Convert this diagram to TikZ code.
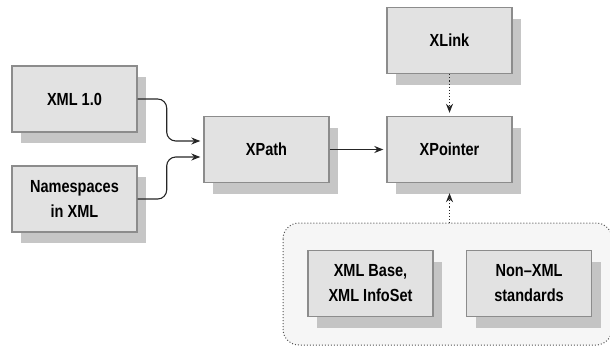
\documentclass[tikz,border=0pt]{standalone}
\usepackage{fontspec}
\setmainfont{Liberation Sans}[FakeStretch=0.83]
\usetikzlibrary{arrows.meta,shadows}

\definecolor{boxfill}{HTML}{E2E2E2}
\definecolor{boxline}{HTML}{8C8C8C}
\definecolor{shadowgray}{HTML}{B8B8B8}
\definecolor{groupfill}{HTML}{F6F6F6}

\tikzset{
  specbox/.style={draw=boxline, line width=1.4pt, fill=boxfill,
    minimum width=125pt, minimum height=66pt, inner sep=0pt,
    align=center, font=\fontsize{17.5}{25}\selectfont\bfseries,
    drop shadow={shadow xshift=9pt, shadow yshift=-11pt, fill=shadowgray, opacity=0.8}},
  link/.style={draw=black!85, line width=1.1pt,
    -{Stealth[length=9pt,width=7pt]}, shorten >=3pt},
  dottedlink/.style={link, dotted}
}

\begin{document}
\begin{tikzpicture}[x=1pt,y=-1pt]
    \useasboundingbox (0,0) rectangle (610,348);

    % group of base standards
    \draw[boxline!60!black, line width=1pt, dotted, rounded corners=16pt, fill=groupfill]
        (283,223) rectangle (612,345);
    \coordinate (grouptop) at (449.5,223);

    \node[specbox] (xml)   at (74.5,99)    {XML 1.0};
    \node[specbox] (ns)    at (74.5,199)   {Namespaces\\in XML};
    \node[specbox] (xpath) at (266.5,149.5) {XPath};
    \node[specbox] (xlink) at (449.5,40.5) {XLink};
    \node[specbox] (xptr)  at (449.5,149.5) {XPointer};
    \node[specbox] (base)  at (370.5,283.5) {XML Base,\\XML InfoSet};
    \node[specbox] (nonxml) at (529,283.5) {Non--XML\\standards};

    \draw[link, rounded corners=9pt] (xml.east) -- ++(29,0) |- ([yshift=8.5pt]xpath.west);
    \draw[link, rounded corners=9pt] (ns.east) -- ++(29,0) |- ([yshift=-7.5pt]xpath.west);
    \draw[link] (xpath.east) -- (xptr.west);
    \draw[dottedlink] (xlink.south) -- (xptr.north);
    \draw[dottedlink, shorten >=10pt] (grouptop) -- (xptr.south);
\end{tikzpicture}
\end{document}
